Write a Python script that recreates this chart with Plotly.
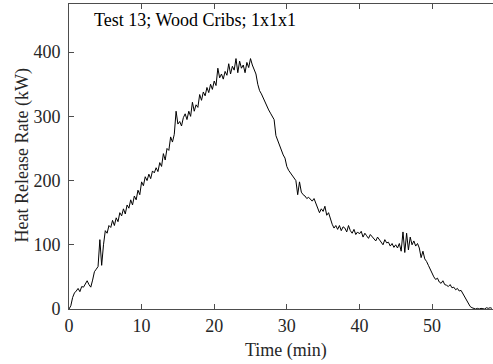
import plotly.graph_objects as go

# Heat release rate (kW), sampled every 0.25 min starting at t = 0
hrr = [
    0, 5, 18, 25,
    28, 32, 27, 35,
    34, 40, 44, 38,
    34, 45, 58, 62,
    66, 108, 68, 100,
    122, 118, 130, 127,
    138, 130, 142, 136,
    150, 145, 156, 148,
    162, 157, 170, 162,
    176, 170, 185, 178,
    198, 192, 206, 200,
    210, 203, 215, 212,
    220, 214, 228, 222,
    242, 232, 250, 247,
    268, 260, 272, 308,
    288, 292, 285, 298,
    304, 295, 308, 300,
    322, 308, 318, 314,
    334, 325, 338, 332,
    345, 337, 350, 342,
    355, 348, 375, 360,
    366, 358, 370, 364,
    382, 366, 378, 372,
    390, 368, 386, 375,
    380, 368, 384, 376,
    390, 380, 372, 366,
    350, 340, 335, 328,
    322, 316, 310, 305,
    300, 295, 270, 262,
    255, 248, 240, 235,
    222, 216, 212, 208,
    205, 200, 178, 198,
    182, 178, 176, 172,
    174, 170, 168, 172,
    164, 158, 150, 156,
    152, 160, 146, 150,
    140, 132, 126, 130,
    124, 130, 122, 128,
    126, 120, 130, 122,
    118, 124, 116, 120,
    117, 121, 112, 118,
    114, 110, 116, 112,
    110, 106, 112, 108,
    105, 100, 108, 103,
    104, 98, 102, 96,
    100, 95, 102, 90,
    120, 88, 118, 92,
    112, 100, 106, 98,
    102, 95, 80, 90,
    78, 74, 68, 62,
    55, 50, 46, 48,
    42, 40, 44, 38,
    37, 35, 38, 33,
    34, 30, 32, 28,
    29, 24, 18, 14,
    8, 4, 2, 1,
    0, 1, 0, 1,
    1, 0, 2, 1,
    2, 1,
]
dt = 0.25
time_min = [i * dt for i in range(len(hrr))]

x_ticks = [0, 10, 20, 30, 40, 50]
y_ticks = [0, 100, 200, 300, 400]

title_text = "Test 13; Wood Cribs; 1x1x1"
x_label = "Time (min)"
y_label = "Heat Release Rate (kW)"

FONT = "Liberation Serif, Times New Roman, serif"
AX = "#4d4d4d"
TXT = "#262626"
tfont = dict(family=FONT, size=18, color=TXT)

fig = go.Figure()
fig.add_trace(go.Scatter(x=time_min, y=hrr, mode="lines",
                         line=dict(color="black", width=1), showlegend=False))

fig.update_layout(
    width=493, height=364,
    margin=dict(l=69, r=0, t=4, b=55),
    paper_bgcolor="white", plot_bgcolor="white",
    font=tfont,
)
fig.update_xaxes(range=[0, 58.4], tickvals=x_ticks, ticks="inside", ticklen=5,
                 tickcolor=AX, showline=True, linecolor=AX, linewidth=1,
                 mirror="ticks", showgrid=False, zeroline=False,
                 tickfont=tfont)
fig.update_yaxes(range=[0, 475], tickvals=y_ticks, ticks="inside", ticklen=5,
                 tickcolor=AX, showline=True, linecolor=AX, linewidth=1,
                 mirror=False, showgrid=False, zeroline=False,
                 ticklabelstandoff=4, tickfont=tfont)

fig.add_annotation(text=title_text, xref="paper", yref="paper",
                   x=(92 - 69) / 424, y=(309 - 20) / 305, xanchor="left",
                   yanchor="middle", showarrow=False,
                   font=dict(family=FONT, size=18, color="black"))
fig.add_annotation(text=x_label, xref="paper", yref="paper",
                   x=(285.5 - 69) / 424, y=-(350 - 309) / 305, xanchor="center",
                   yanchor="middle", showarrow=False, font=tfont)
fig.add_annotation(text=y_label, xref="paper", yref="paper",
                   x=-(69 - 22) / 424, y=(309 - 155.5) / 305, xanchor="center",
                   yanchor="middle", showarrow=False, textangle=-90,
                   font=tfont)

fig.write_html("out.html")
